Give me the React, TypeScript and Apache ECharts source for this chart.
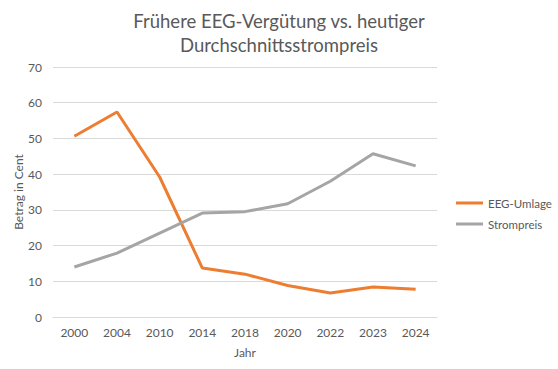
import React, { useEffect, useRef } from "react";
import * as echarts from "echarts";

const categories = ["2000", "2004", "2010", "2014", "2018", "2020", "2022", "2023", "2024"];
const eegUmlage = [50.6, 57.4, 39.2, 13.7, 12.0, 8.8, 6.7, 8.4, 7.8];
const strompreis = [14.0, 17.9, 23.5, 29.1, 29.5, 31.7, 38.0, 45.7, 42.3];
const titleText = "Frühere EEG-Vergütung vs. heutiger\nDurchschnittsstrompreis";

const FONT = "Lato, 'Open Sans', sans-serif";
const GREY_TEXT = "#595959";

export default function App() {
  const ref = useRef<HTMLDivElement>(null);
  useEffect(() => {
    if (!ref.current) return;
    const chart = echarts.init(ref.current, null, { renderer: "svg" });
    chart.setOption({
      animation: false,
      backgroundColor: "#ffffff",
      title: {
        text: titleText,
        left: "center",
        top: 4,
        textStyle: {
          fontFamily: FONT,
          fontSize: 18.5,
          fontWeight: "normal",
          color: GREY_TEXT,
          lineHeight: 24,
        },
      },
      grid: { left: 53, right: 121, top: 67, bottom: 52, containLabel: false },
      legend: {
        orient: "vertical",
        left: 451,
        top: 192,
        itemWidth: 27,
        itemHeight: 3,
        itemGap: 9,
        icon: "rect",
        textStyle: { fontFamily: FONT, fontSize: 11.5, color: GREY_TEXT },
        data: ["EEG-Umlage", "Strompreis"],
      },
      xAxis: {
        type: "category",
        data: categories,
        boundaryGap: true,
        name: "Jahr",
        nameLocation: "middle",
        nameGap: 29,
        nameTextStyle: { fontFamily: FONT, fontSize: 12, color: GREY_TEXT },
        axisLine: { show: true, lineStyle: { color: "#d9d9d9", width: 1 } },
        axisTick: { show: false },
        axisLabel: { fontFamily: FONT, fontSize: 12, color: GREY_TEXT, margin: 9 },
      },
      yAxis: {
        type: "value",
        min: 0,
        max: 70,
        interval: 10,
        name: "Betrag in Cent",
        nameLocation: "middle",
        nameGap: 29,
        nameMoveOverlap: false,
        nameTextStyle: { fontFamily: FONT, fontSize: 12, color: GREY_TEXT },
        axisLine: { show: false },
        axisTick: { show: false },
        axisLabel: { fontFamily: FONT, fontSize: 12, color: GREY_TEXT, margin: 11 },
        splitLine: { lineStyle: { color: "#d9d9d9", width: 1 } },
      },
      series: [
        {
          name: "EEG-Umlage",
          type: "line",
          data: eegUmlage,
          symbol: "none",
          lineStyle: { color: "#ED7D31", width: 3 },
          itemStyle: { color: "#ED7D31" },
        },
        {
          name: "Strompreis",
          type: "line",
          data: strompreis,
          symbol: "none",
          lineStyle: { color: "#A5A5A5", width: 3 },
          itemStyle: { color: "#A5A5A5" },
        },
      ],
    });
    return () => chart.dispose();
  }, []);
  return <div ref={ref} style={{ width: 558, height: 369, position: "absolute", left: 0, top: 0 }} />;
}
